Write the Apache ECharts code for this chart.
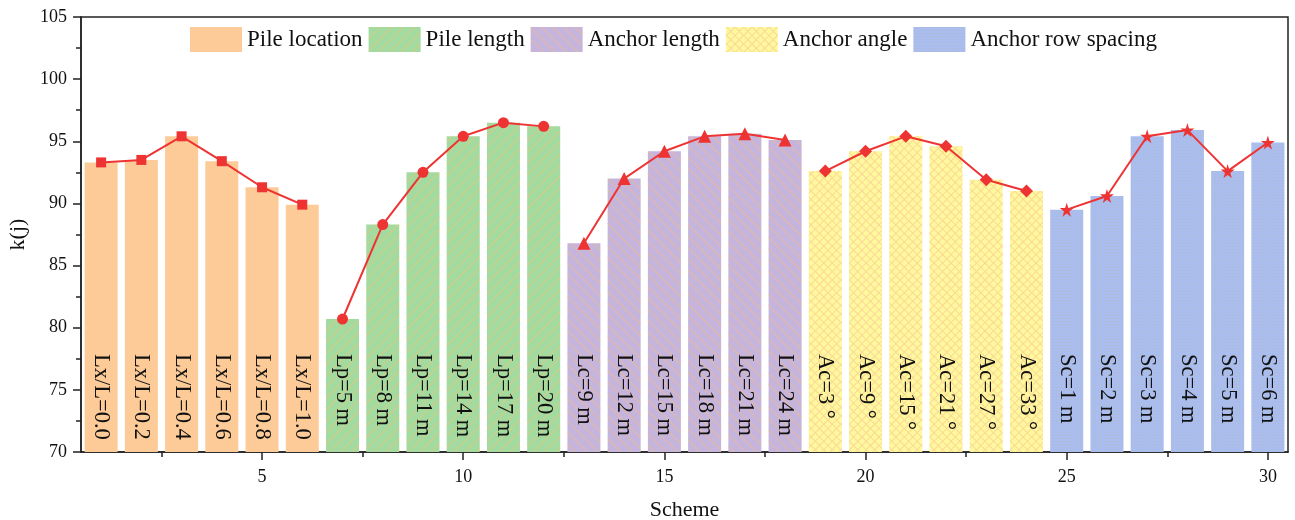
<!DOCTYPE html>
<html>
<head>
<meta charset="utf-8">
<script src="https://cdn.jsdelivr.net/npm/echarts@6/dist/echarts.min.js"></script>
<style>html,body{margin:0;padding:0;background:#fff;}#c{width:1295px;height:520px;}</style>
</head>
<body>
<div id="c"></div>
<script>
// ---- data ----
const groupNames = ['Pile location', 'Pile length', 'Anchor length', 'Anchor angle', 'Anchor row spacing'];
const pileLocationX = [1, 2, 3, 4, 5, 6];
const pileLengthX = [7, 8, 9, 10, 11, 12];
const anchorLengthX = [13, 14, 15, 16, 17, 18];
const anchorAngleX = [19, 20, 21, 22, 23, 24];
const anchorSpacingX = [25, 26, 27, 28, 29, 30];
const pileLocation = [93.3, 93.5, 95.4, 93.4, 91.3, 89.9];
const pileLength = [80.7, 88.3, 92.5, 95.4, 96.5, 96.2];
const anchorLength = [86.8, 92.0, 94.2, 95.4, 95.6, 95.1];
const anchorAngle = [92.6, 94.2, 95.4, 94.6, 91.9, 91.0];
const anchorSpacing = [89.5, 90.6, 95.4, 95.9, 92.6, 94.9];
const pileLocationLabels = ['Lx/L=0.0', 'Lx/L=0.2', 'Lx/L=0.4', 'Lx/L=0.6', 'Lx/L=0.8', 'Lx/L=1.0'];
const pileLengthLabels = ['Lp=5 m', 'Lp=8 m', 'Lp=11 m', 'Lp=14 m', 'Lp=17 m', 'Lp=20 m'];
const anchorLengthLabels = ['Lc=9 m', 'Lc=12 m', 'Lc=15 m', 'Lc=18 m', 'Lc=21 m', 'Lc=24 m'];
const anchorAngleLabels = ['Ac=3 °', 'Ac=9 °', 'Ac=15 °', 'Ac=21 °', 'Ac=27 °', 'Ac=33 °'];
const anchorSpacingLabels = ['Sc=1 m', 'Sc=2 m', 'Sc=3 m', 'Sc=4 m', 'Sc=5 m', 'Sc=6 m'];
const xMajorTicks = [5, 10, 15, 20, 25, 30];
const xMinorTicks = [2.5, 7.5, 12.5, 17.5, 22.5, 27.5];

// ---- styling ----
const FONT = 'Liberation Serif';
const LINE = '#ee3333';
const starPath = 'path://M50,0 L61,35 L98,35 L68,57 L79,91 L50,70 L21,91 L32,57 L2,35 L39,35 Z';
const groups = [
  { x: pileLocationX, y: pileLocation, lab: pileLocationLabels, color: '#fdcb98', symbol: 'rect', size: 10, decal: null },
  { x: pileLengthX, y: pileLength, lab: pileLengthLabels, color: '#a2daa0', symbol: 'circle', size: 11,
    decal: { symbol: 'rect', symbolSize: 1, color: 'rgba(236,196,120,0.7)', dashArrayX: [1, 0], dashArrayY: [1, 7], rotation: -Math.PI / 4 } },
  { x: anchorLengthX, y: anchorLength, lab: anchorLengthLabels, color: '#c5b5dc', symbol: 'triangle', size: 13,
    decal: { symbol: 'rect', symbolSize: 1, color: 'rgba(240,185,140,0.7)', dashArrayX: [1, 0], dashArrayY: [1, 7], rotation: Math.PI / 4 } },
  { x: anchorAngleX, y: anchorAngle, lab: anchorAngleLabels, color: '#fff89c', symbol: 'diamond', size: 13,
    decal: { symbol: 'rect', symbolSize: 1, color: 'rgba(245,190,150,0.55)', dashArrayX: [[1, 0], [1, 5], [1, 5], [1, 5], [1, 5], [1, 5]], dashArrayY: [1, 0], rotation: Math.PI / 4 } },
  { x: anchorSpacingX, y: anchorSpacing, lab: anchorSpacingLabels, color: '#a9bdee', symbol: starPath, size: 14,
    decal: { symbol: 'rect', symbolSize: 1, color: 'rgba(190,180,175,0.55)', dashArrayX: [1, 2], dashArrayY: [1, 2], rotation: 0 } }
];

const series = [];
groups.forEach((g, i) => {
  const pts = g.x.map((xv, j) => [xv, g.y[j]]);
  const item = { color: g.color };
  if (g.decal) item.decal = g.decal;
  series.push({
    name: groupNames[i], type: 'bar', barWidth: 33, barGap: '-100%',
    data: pts, itemStyle: item, z: 2,
    label: {
      show: true, position: 'insideBottom', distance: 98, rotate: -90,
      align: 'left', verticalAlign: 'middle',
      fontFamily: FONT, fontSize: 22.5, color: '#111',
      formatter: (p) => g.lab[p.dataIndex]
    }
  });
  series.push({
    name: 'line' + i, type: 'line', data: pts, z: 5,
    symbol: g.symbol, symbolSize: g.size,
    lineStyle: { color: LINE, width: 2 }, itemStyle: { color: LINE },
    label: { show: false }
  });
});

const chart = echarts.init(document.getElementById('c'), null, { renderer: 'canvas' });
chart.setOption({
  animation: false,
  backgroundColor: '#fff',
  legend: {
    data: groupNames, left: 185, top: 22, itemWidth: 52, itemHeight: 25, itemGap: 6,
    selectedMode: false, icon: 'rect',
    textStyle: { fontFamily: FONT, fontSize: 23, color: '#111' }
  },
  grid: { left: 81, right: 7, top: 17, bottom: 68, show: true, borderColor: '#222', borderWidth: 1.5,
    containLabel: false, outerBoundsMode: 'none' },
  xAxis: [{
    type: 'value', min: 0.5, max: 30.5, position: 'bottom',
    name: 'Scheme', nameLocation: 'middle', nameGap: 47,
    nameTextStyle: { fontFamily: FONT, fontSize: 22, color: '#111' },
    axisLine: { show: true, lineStyle: { color: '#222', width: 1.5 } },
    axisTick: { show: true, length: 8, inside: false, customValues: xMajorTicks, lineStyle: { color: '#222', width: 1.5 } },
    axisLabel: { customValues: xMajorTicks, fontFamily: FONT, fontSize: 18, color: '#111', margin: 16 },
    splitLine: { show: false }
  }, {
    type: 'value', min: 0.5, max: 30.5, position: 'bottom',
    axisLine: { show: false },
    axisTick: { show: true, length: 5, inside: false, customValues: xMinorTicks, lineStyle: { color: '#222', width: 1.5 } },
    axisLabel: { show: false },
    splitLine: { show: false }
  }],
  yAxis: {
    type: 'value', min: 70, max: 105, interval: 5,
    name: 'k(j)', nameLocation: 'middle', nameGap: 42,
    nameTextStyle: { fontFamily: FONT, fontSize: 22, color: '#111' },
    axisLine: { show: true, lineStyle: { color: '#222', width: 1.5 } },
    axisTick: { show: true, length: 8, lineStyle: { color: '#222', width: 1.5 } },
    minorTick: { show: true, splitNumber: 2, length: 5, lineStyle: { color: '#222', width: 1.5 } },
    axisLabel: { fontFamily: FONT, fontSize: 18, color: '#111', margin: 14 },
    splitLine: { show: false }
  },
  series: series
});
</script>
</body>
</html>
